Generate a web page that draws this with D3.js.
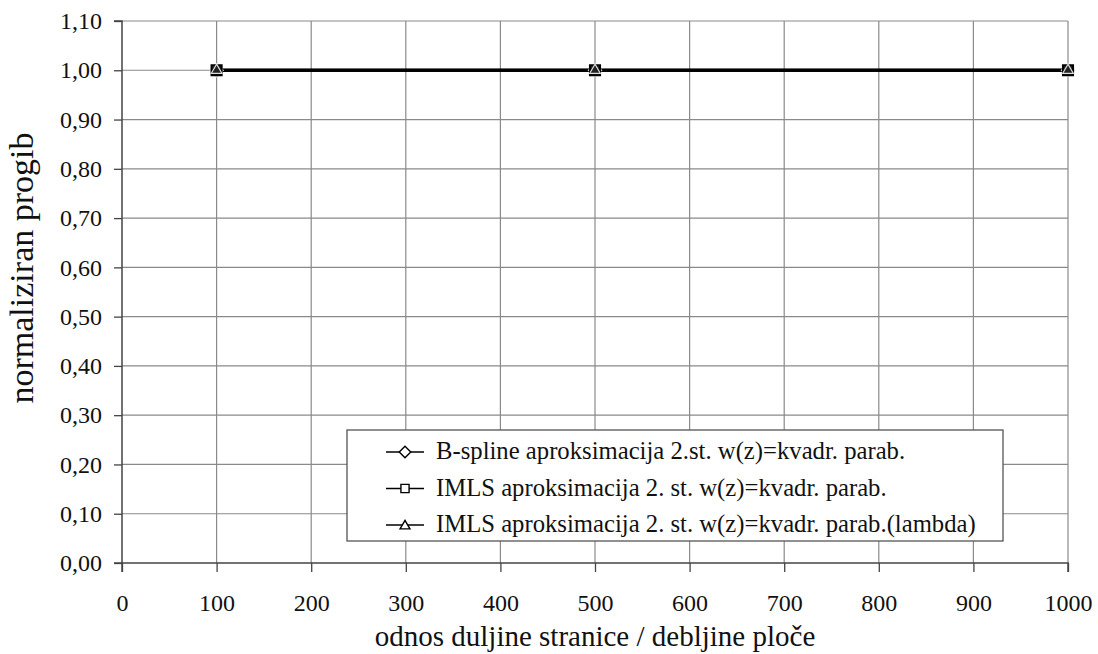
<!DOCTYPE html>
<html><head><meta charset="utf-8">
<script src="https://cdn.jsdelivr.net/npm/d3@7/dist/d3.min.js"></script>
<style>body{margin:0;background:#fff}</style>
</head><body><svg id="c" width="1098" height="654"></svg>
<script>
const xValues = [100, 500, 1000];
const seriesNames = ["B-spline aproksimacija 2.st. w(z)=kvadr. parab.", "IMLS aproksimacija 2. st. w(z)=kvadr. parab.", "IMLS aproksimacija 2. st. w(z)=kvadr. parab.(lambda)"];
const seriesSymbols = ["diamond", "square", "triangle"];
const bsplineValues = [1.0, 1.0, 1.0];
const imlsValues = [1.0, 1.0, 1.0];
const imlsLambdaValues = [1.0, 1.0, 1.0];
const xTicks = [0, 100, 200, 300, 400, 500, 600, 700, 800, 900, 1000];
const yTicks = [0, 0.1, 0.2, 0.3, 0.4, 0.5, 0.6, 0.7, 0.8, 0.9, 1.0, 1.1];
const xTitle = "odnos duljine stranice / debljine ploče";
const yTitle = "normaliziran progib";

const FONT = "'Liberation Serif', 'Times New Roman', Times, 'DejaVu Serif', serif";
const series = [bsplineValues, imlsValues, imlsLambdaValues].map((v, i) => ({name: seriesNames[i], sym: seriesSymbols[i], values: v}));

const svg = d3.select("#c");
const m = {l: 122, r: 1068, t: 21, b: 563};
const x = d3.scaleLinear().domain([0, 1000]).range([m.l, m.r]);
const y = d3.scaleLinear().domain([0, 1.1]).range([m.b, m.t]);
const fmt = d => d.toFixed(2).replace(".", ",");

// grid
const g = svg.append("g");
g.selectAll("line.vx").data(xTicks.filter(d => d > 0)).join("line")
  .attr("x1", d => x(d)).attr("x2", d => x(d)).attr("y1", m.t).attr("y2", m.b)
  .attr("stroke", "#8a8a8a").attr("stroke-width", 1.2);
g.selectAll("line.hy").data(yTicks.filter(d => d > 0)).join("line")
  .attr("x1", m.l).attr("x2", m.r).attr("y1", d => y(d)).attr("y2", d => y(d))
  .attr("stroke", "#8a8a8a").attr("stroke-width", 1.2);

// axes
const xAxis = d3.axisBottom(x).tickValues(xTicks).tickSize(9).tickPadding(22).tickFormat(d3.format("d"));
const yAxis = d3.axisLeft(y).tickValues(yTicks).tickSize(8).tickPadding(12).tickFormat(fmt);
const ax = svg.append("g").attr("transform", `translate(0,${m.b})`).call(xAxis);
const ay = svg.append("g").attr("transform", `translate(${m.l},0)`).call(yAxis);
[ax, ay].forEach(a => {
  a.attr("font-family", null).attr("font-size", null);
  a.select(".domain").attr("stroke", "#444").attr("stroke-width", 1.5);
  a.selectAll(".tick line").attr("stroke", "#444").attr("stroke-width", 1.3);
  a.selectAll("text").style("font-size", "24px").style("font-family", FONT).attr("fill", "#111");
});
ay.select(".domain").attr("d", `M-8,${m.t}H0V${m.b}H-8`);
ax.select(".domain").attr("d", `M${m.l},9V0H${m.r}V9`);

// titles
svg.append("text").attr("x", x(500)).attr("y", 646).attr("text-anchor", "middle")
  .style("font-size", "29px").style("font-family", FONT).attr("fill", "#111").text(xTitle);
svg.append("text").attr("transform", `translate(33,${(m.t + m.b) / 2 - 24}) rotate(-90)`).attr("text-anchor", "middle")
  .style("font-size", "34px").style("font-family", FONT).attr("fill", "#111").text(yTitle);

// lines
const line = d3.line().x((d, i) => x(xValues[i])).y(d => y(d));
const symGen = {
  diamond: d3.symbol().type(d3.symbolDiamond2).size(110),
  square: d3.symbol().type(d3.symbolSquare2).size(130),
  triangle: d3.symbol().type(d3.symbolTriangle2).size(80)
};
series.forEach(s => {
  svg.append("path").datum(s.values).attr("d", line).attr("fill", "none").attr("stroke", "#000").attr("stroke-width", 3.2);
});
series.forEach(s => {
  svg.append("g").selectAll("path").data(s.values).join("path")
    .attr("transform", (d, i) => `translate(${x(xValues[i])},${y(d)})`)
    .attr("d", symGen[s.sym]).attr("fill", s.sym === "square" ? "#222" : "none")
    .attr("stroke", s.sym === "square" ? "#000" : "#ddd").attr("stroke-width", s.sym === "square" ? 2 : 1.2);
});

// legend
const lg = svg.append("g");
lg.append("rect").attr("x", 347).attr("y", 430).attr("width", 656).attr("height", 111)
  .attr("fill", "#fff").attr("stroke", "#555").attr("stroke-width", 1.3);
series.forEach((s, i) => {
  const cy = 452 + i * 36.5;
  lg.append("line").attr("x1", 386).attr("x2", 424).attr("y1", cy).attr("y2", cy).attr("stroke", "#000").attr("stroke-width", 1.5);
  const sg = d3.symbol().type(s.sym === "diamond" ? d3.symbolDiamond2 : s.sym === "square" ? d3.symbolSquare2 : d3.symbolTriangle2)
    .size(s.sym === "triangle" ? 70 : 85);
  lg.append("path").attr("transform", `translate(405,${cy + (s.sym === "triangle" ? 1 : 0)})`).attr("d", sg)
    .attr("fill", "#fff").attr("stroke", "#000").attr("stroke-width", 1.4);
  lg.append("text").attr("x", 436).attr("y", cy + 7).style("font-size", "24.7px").style("font-family", FONT).attr("fill", "#111").text(s.name);
});
</script></body></html>
